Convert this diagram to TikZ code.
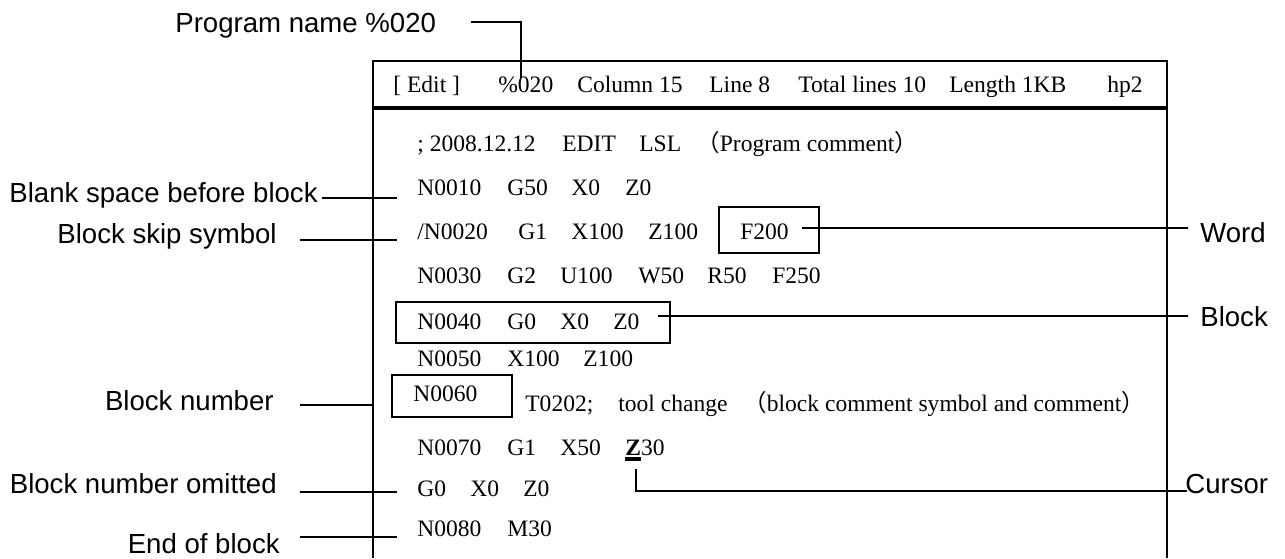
\documentclass[tikz,border=0pt]{standalone}
\usepackage{fontspec}
\setmainfont{Liberation Serif}
\newfontfamily\sansf{Liberation Sans}
\newfontfamily\cjk{Noto Sans CJK SC}
\usetikzlibrary{calc}
\newcommand\codefont{\fontsize{13.4}{16}\selectfont}
\newcommand\labfont{\sansf\fontsize{15.7}{18}\selectfont}
\tikzset{
  code/.style={font=\codefont, inner sep=0pt, anchor=base west},
  lab/.style={font=\labfont, inner sep=0pt},
  ln/.style={line width=1.1pt},
  boxst/.style={draw, line width=1.1pt, inner sep=0pt}
}
\begin{document}
\begin{tikzpicture}[x=0.02cm,y=-0.02cm]
\useasboundingbox (0,0) rectangle (1285,558);
% frame
\draw[ln] (373,558) -- (373,61) -- (1167,61) -- (1167,558);
\draw[line width=2.4pt] (373,108) -- (1167,108);
% header
\node[code] (h1) at (393,92) {[ Edit ]};
\node[code] (h2) at (498,92) {\%020};
\node[code] (h3) at (577,92) {Column 15};
\node[code] (h4) at (709,92) {Line 8};
\node[code] (h5) at (798,92) {Total lines 10};
\node[code] (h6) at (949,92) {Length 1KB};
\node[code] (h7) at (1107,92) {hp2};
% row 0
\node[code] (r0a) at (417,151) {; 2008.12.12};
\node[code] (r0b) at (562,151) {EDIT};
\node[code] (r0c) at (639,151) {LSL};
\node[code] (r0d) at (696,151) {{\cjk （}Program comment{\cjk ）}};
% row 1
\node[code] (r1a) at (417,195) {N0010};
\node[code] (r1b) at (507,195) {G50};
\node[code] (r1c) at (571,195) {X0};
\node[code] (r1d) at (625,195) {Z0};
% row 2
\node[code] (r2a) at (417,239) {/N0020};
\node[code] (r2b) at (518,239) {G1};
\node[code] (r2c) at (571,239) {X100};
\node[code] (r2d) at (648,239) {Z100};
\node[code] (r2e) at (740,239) {F200};
\node[boxst, minimum width=2cm, minimum height=0.92cm] (wordbox) at (769,230) {};
% row 3
\node[code] (r3a) at (417,283) {N0030};
\node[code] (r3b) at (507,283) {G2};
\node[code] (r3c) at (560,283) {U100};
\node[code] (r3d) at (638,283) {W50};
\node[code] (r3e) at (707,283) {R50};
\node[code] (r3f) at (772,283) {F250};
% row 4
\node[code] (r4a) at (417,329) {N0040};
\node[code] (r4b) at (507,329) {G0};
\node[code] (r4c) at (560,329) {X0};
\node[code] (r4d) at (613,329) {Z0};
\node[boxst, minimum width=5.48cm, minimum height=0.82cm] (blockbox) at (533,322.5) {};
% row 5
\node[code] (r5a) at (417,366) {N0050};
\node[code] (r5b) at (507,366) {X100};
\node[code] (r5c) at (583,366) {Z100};
% row 6
\node[code] (r6a) at (413,401) {N0060};
\node[boxst, minimum width=2.4cm, minimum height=0.84cm] (numbox) at (452,396) {};
\node[code] (r6b) at (525,411) {T0202;};
\node[code] (r6c) at (618,411) {tool change};
\node[code] (r6d) at (743,411) {{\cjk （}block comment symbol and comment{\cjk ）}};
% row 7
\node[code] (r7a) at (417,455) {N0070};
\node[code] (r7b) at (507,455) {G1};
\node[code] (r7c) at (560,455) {X50};
\node[code] (r7d) at (625,455) {\textbf{Z}30};
\coordinate (curl) at (625,459);
\coordinate (curr) at (641,459);
\draw[line width=1.8pt] (curl) -- (curr);
% row 8
\node[code] (r8a) at (417,496) {G0};
\node[code] (r8b) at (470,496) {X0};
\node[code] (r8c) at (523,496) {Z0};
% row 9
\node[code] (r9a) at (417,536) {N0080};
\node[code] (r9b) at (507,536) {M30};
% left labels
\node[lab, anchor=base west] (pnlab) at (175,32) {Program name \%020};
\node[lab, anchor=base east] (blanklab) at (318,202) {Blank space before block};
\node[lab, anchor=base east] (skiplab) at (277,243) {Block skip symbol};
\node[lab, anchor=base east] (numlab) at (274,410) {Block number};
\node[lab, anchor=base east] (omitlab) at (277,493) {Block number omitted};
\node[lab, anchor=base east] (endlab) at (280,553) {End of block};
% right labels
\node[lab, anchor=base west] (wordlab) at (1200,242) {Word};
\node[lab, anchor=base west] (blocklab) at (1200,326) {Block};
\node[lab, anchor=base west] (cursorlab) at (1185,493) {Cursor};
% connector coordinates
\coordinate (pnturn) at (521,22);
\coordinate (pnend) at (521,78);
\coordinate (blankend) at (397,198);
\coordinate (skipend) at (397,240);
\coordinate (numend) at (373,405);
\coordinate (omitend) at (397,492);
\coordinate (endend) at (397,537);
\coordinate (wordstart) at (802,228);
\coordinate (blkstart) at (658,316);
\coordinate (curtop) at (636,469);
\coordinate (curturn) at (636,491);
% connectors
\draw[ln] ([xshift=0.7cm]pnlab.east |- pnturn) -- (pnturn) -- (pnend);
\draw[ln] ([xshift=0.08cm]blanklab.east |- blankend) -- (blankend);
\draw[ln] ([xshift=0.46cm]skiplab.east |- skipend) -- (skipend);
\draw[ln] ([xshift=0.52cm]numlab.east |- numend) -- (numend);
\draw[ln] ([xshift=0.46cm]omitlab.east |- omitend) -- (omitend);
\draw[ln] ([xshift=0.4cm]endlab.east |- endend) -- (endend);
\draw[ln] (wordstart) -- ([xshift=-0.24cm]wordlab.west |- wordstart);
\draw[ln] (blkstart) -- ([xshift=-0.24cm]blocklab.west |- blkstart);
\draw[ln] (curtop) -- (curturn) -- ([xshift=0.04cm]cursorlab.west |- curturn);
\end{tikzpicture}
\end{document}
